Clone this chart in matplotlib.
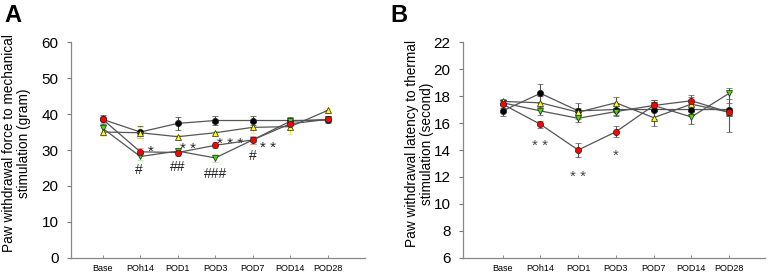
import matplotlib.pyplot as plt
import numpy as np

plt.rcParams['font.family'] = ['Liberation Sans', 'DejaVu Sans']

days = ['Base', 'POh14', 'POD1', 'POD3', 'POD7', 'POD14', 'POD28']

# 机械刺激 (gram)
mech_black = [38.5, 35.0, 37.4, 38.2, 38.2, 38.2, 38.3]
mech_black_err = [1.3, 1.8, 1.8, 1.3, 1.3, 1.0, 0.8]
mech_green = [36.0, 28.2, 29.7, 27.8, 32.8, 38.0, 38.5]
mech_green_err = [1.0, 1.0, 0.8, 1.0, 1.0, 1.0, 1.0]
mech_yellow = [35.0, 34.8, 33.7, 34.8, 36.3, 36.5, 41.0]
mech_yellow_err = [1.0, 1.5, 0.6, 0.6, 1.5, 2.0, 0.6]
mech_red = [38.5, 29.5, 29.3, 31.3, 32.8, 37.3, 38.5]
mech_red_err = [1.0, 1.0, 1.0, 0.8, 1.0, 1.5, 0.8]

# 热刺激 (second)
therm_black = [16.9, 18.2, 16.9, 17.0, 17.0, 17.0, 17.0]
therm_black_err = [0.4, 0.7, 0.6, 0.4, 0.7, 0.4, 0.5]
therm_green = [17.5, 16.9, 16.35, 16.85, 17.3, 16.45, 18.2]
therm_green_err = [0.2, 0.3, 0.3, 0.3, 0.4, 0.5, 0.4]
therm_yellow = [17.6, 17.5, 16.8, 17.5, 16.4, 17.4, 16.8]
therm_yellow_err = [0.2, 0.5, 0.3, 0.4, 0.6, 0.5, 1.5]
therm_red = [17.4, 15.9, 14.0, 15.35, 17.3, 17.65, 16.8]
therm_red_err = [0.3, 0.25, 0.55, 0.4, 0.4, 0.4, 0.3]

# 显著性标记 (x, y, text) —— y 为标记视觉中心
mech_stars = [(1.2, 31.1, '*'), (2.05, 31.9, '**'), (3.04, 33.3, '***'), (4.2, 32.1, '**')]
mech_hash = [(0.95, 24.5, '#'), (2.0, 25.3, '##'), (3.0, 23.4, '###'), (4.0, 28.3, '#')]
therm_stars = [(1.0, 14.77, '**'), (2.0, 12.44, '**'), (3.0, 14.0, '*')]

x = np.arange(len(days))
fig = plt.figure(figsize=(7.68, 2.75), dpi=100)
axA = fig.add_axes([0.0924, 0.062, 0.383, 0.785])
axB = fig.add_axes([0.603, 0.062, 0.393, 0.785])


def draw(ax, series, ecolors):
    for (y, e, marker, color), ec in zip(series, ecolors):
        ax.errorbar(x, y, yerr=e, color='#555555', lw=0.9, ecolor=ec, elinewidth=0.8,
                    capsize=2.5, capthick=0.8, marker=marker, ms=4.5, mfc=color,
                    mec='#222222', mew=0.5, zorder=3)


draw(axA, [(mech_black, mech_black_err, 'o', 'black'),
           (mech_green, mech_green_err, 'v', '#44dd00'),
           (mech_yellow, mech_yellow_err, '^', '#ffff00'),
           (mech_red, mech_red_err, 'o', '#ff0000')],
     ['#444444', '#99ee88', '#eeee66', '#ff7777'])
draw(axB, [(therm_black, therm_black_err, 'o', 'black'),
           (therm_green, therm_green_err, 'v', '#44dd00'),
           (therm_yellow, therm_yellow_err, '^', '#ffff00'),
           (therm_red, therm_red_err, 'o', '#ff0000')],
     ['#555555'] * 4)

# 星号字形偏上，向下补偿
for xx, yy, t in mech_stars:
    axA.text(xx, yy - 1.6, ' '.join(t), fontsize=11, ha='left', va='center', color='#222222')
for xx, yy, t in mech_hash:
    axA.text(xx, yy, t, fontsize=10, ha='center', va='center', color='#222222')
for xx, yy, t in therm_stars:
    axB.text(xx, yy - 0.45, ' '.join(t), fontsize=11, ha='center', va='center', color='#444444')

for ax, lim, ticks, lab, lx in [(axA, (0, 60), np.arange(0, 61, 10),
                                 'Paw withdrawal force to mechanical\nstimulation (gram)', -0.135),
                                (axB, (6, 22), np.arange(6, 23, 2),
                                 'Paw withdrawal latency to thermal\nstimulation (second)', -0.095)]:
    ax.set_ylim(*lim)
    ax.set_yticks(ticks)
    ax.set_xticks(x)
    ax.set_xticklabels(days, fontsize=6.5)
    ax.tick_params(axis='y', labelsize=11, length=3, width=0.8, color='#777777', pad=6)
    ax.tick_params(axis='x', length=2, width=0.6, direction='in', color='#777777', pad=4)
    for s in ['top', 'right']:
        ax.spines[s].set_visible(False)
    for s in ['left', 'bottom']:
        ax.spines[s].set_color('#888888')
        ax.spines[s].set_linewidth(0.9)
    ax.set_ylabel(lab, fontsize=9.8, linespacing=1.1)
    ax.yaxis.set_label_coords(lx, 0.53)

axA.set_xlim(-0.85, 7.0)
axB.set_xlim(-1.05, 6.95)

fig.text(0.006, 0.985, 'A', fontsize=17, fontweight='bold', va='top', ha='left')
fig.text(0.508, 0.985, 'B', fontsize=17, fontweight='bold', va='top', ha='left')

fig.savefig('out.png', dpi=100)
